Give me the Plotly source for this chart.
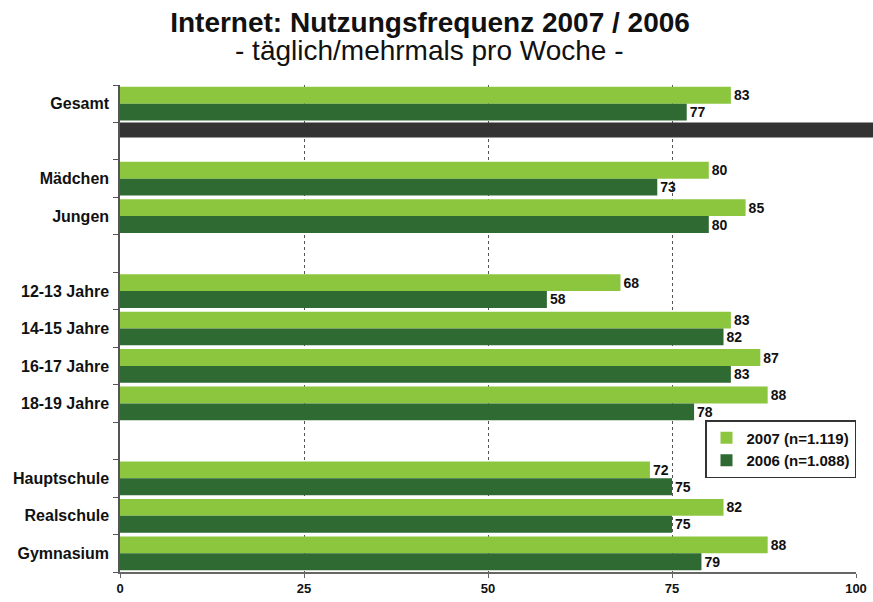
import plotly.graph_objects as go

categories = ["Gesamt", "\u200b", "Mädchen", "Jungen", "\u200b\u200b",
              "12-13 Jahre", "14-15 Jahre", "16-17 Jahre", "18-19 Jahre", "\u200b\u200b\u200b",
              "Hauptschule", "Realschule", "Gymnasium"]
values_2007 = [83, None, 80, 85, None, 68, 83, 87, 88, None, 72, 82, 88]
values_2006 = [77, None, 73, 80, None, 58, 82, 83, 78, None, 75, 75, 79]
series_names = ["2007 (n=1.119)", "2006 (n=1.088)"]
x_ticks = [0, 25, 50, 75, 100]
title_text = "Internet: Nutzungsfrequenz 2007 / 2006"
subtitle_text = "- täglich/mehrmals pro Woche -"

LIGHT = "#8cc63e"
DARK = "#2f6a33"
FONT = "Liberation Sans, Arial, sans-serif"

def labels(vals):
    return [("" if v is None else f"<b>{v}</b>") for v in vals]

fig = go.Figure()
for name, vals, col in [(series_names[0], values_2007, LIGHT), (series_names[1], values_2006, DARK)]:
    fig.add_trace(go.Bar(
        y=categories, x=vals, name=f"<b>{name}</b>", orientation="h",
        marker=dict(color=col, line=dict(width=0)),
        text=labels(vals), textposition="outside",
        textfont=dict(family=FONT, size=14, color="#111111"),
        cliponaxis=False,
    ))

# dark separator band below "Gesamt"
fig.add_shape(type="rect", xref="paper", yref="y", x0=0, x1=1.05, y0=0.5, y1=0.9,
              fillcolor="#333333", line=dict(width=0), layer="above")

fig.add_annotation(
    text=subtitle_text, xref="paper", yref="paper", x=0.42, y=1.07,
    xanchor="center", yanchor="middle", showarrow=False,
    font=dict(family=FONT, size=28, color="#111111"),
)

fig.update_layout(
    width=873, height=602,
    margin=dict(l=120, r=17, t=85, b=30),
    paper_bgcolor="white", plot_bgcolor="white",
    barmode="group", bargap=0.1, bargroupgap=0,
    title=dict(
        text=f"<b>{title_text}</b>",
        x=0.4926, xanchor="center", y=0.9635, yanchor="middle",
        font=dict(family=FONT, size=28, color="#111111"),
    ),
    font=dict(family=FONT, color="#111111"),
    showlegend=True,
    legend=dict(
        x=1.0, y=0.312, xanchor="right", yanchor="top",
        bgcolor="white", bordercolor="#333333", borderwidth=1.5,
        font=dict(family=FONT, size=15, color="#111111"),
        traceorder="normal", itemwidth=30,
    ),
)
fig.update_xaxes(
    range=[0, 100], tickvals=x_ticks, ticktext=[f"<b>{t}</b>" for t in x_ticks],
    showgrid=True, gridcolor="#555555", griddash="dot", gridwidth=1,
    showline=True, linecolor="#666666", linewidth=1.5,
    ticks="outside", ticklen=4, tickcolor="#666666",
    tickfont=dict(family=FONT, size=13, color="#111111"),
    zeroline=False, automargin=False,
)
fig.update_yaxes(
    type="category", categoryorder="array", categoryarray=categories,
    autorange="reversed",
    tickvals=categories, ticktext=[f"<b>{c}</b>" for c in categories],
    tickson="boundaries", ticks="outside", ticklen=5, tickcolor="#555555",
    ticklabelstandoff=6,
    showline=True, linecolor="#555555", linewidth=1.5,
    showgrid=False, automargin=False,
    tickfont=dict(family=FONT, size=16, color="#111111"),
)

fig.write_html("out.html", config={"displayModeBar": False},
               post_script="document.body.style.margin='0';document.body.style.overflow='hidden';")
